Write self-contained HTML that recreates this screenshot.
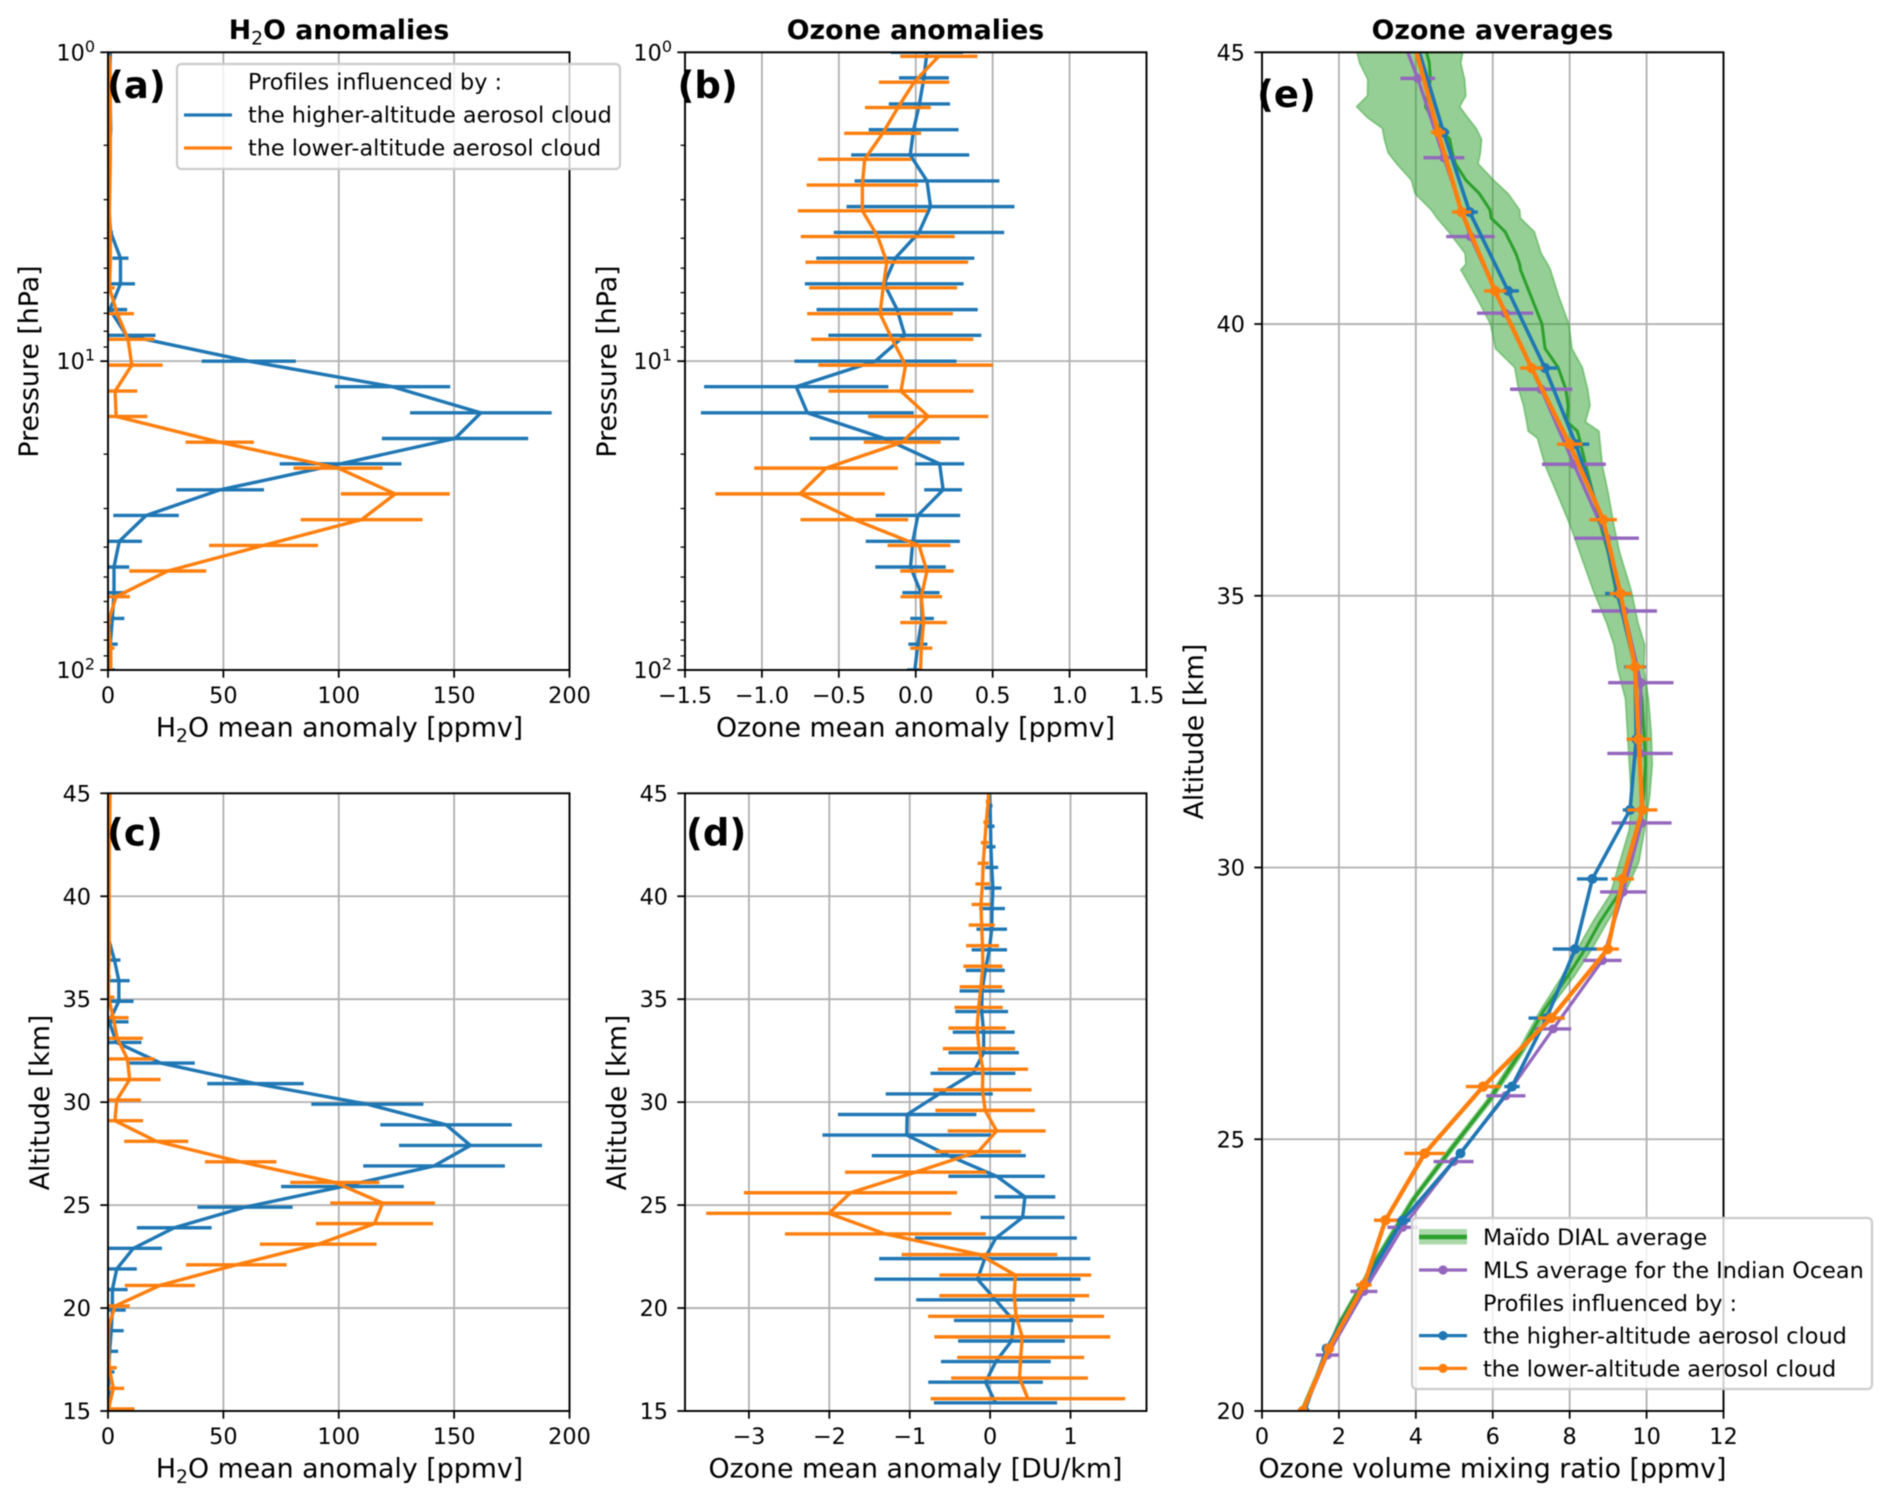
<!DOCTYPE html>
<html lang="en">
<head>
<meta charset="utf-8">
<title>Water vapour and ozone anomaly profiles</title>
<style>
html,body{margin:0;padding:0;background:#fff;}
#figure{display:block;width:1892px;height:1503px;font-family:"DejaVu Sans","Liberation Sans",sans-serif;filter:blur(0.6px);}
.title{font-size:26.8px;font-weight:bold;text-anchor:middle;}
.axis-label{font-size:26.8px;text-anchor:middle;fill:#000;}
.panel-tag{font-size:37px;font-weight:bold;}
.legend-text{font-size:22.35px;fill:#000;}
.legend-box{fill:#fff;fill-opacity:.8;stroke:#ccc;stroke-width:2.2;}
</style>
</head>
<body>
<svg id="figure" xmlns="http://www.w3.org/2000/svg" width="1892" height="1503" viewBox="0 0 1892 1503">
  <rect width="1892" height="1503" fill="#fff"/>
  <g id="panel-a"></g>
  <g id="panel-b"></g>
  <g id="panel-c"></g>
  <g id="panel-d"></g>
  <g id="panel-e"></g>

  <text class="title" x="339" y="39">H<tspan dy="5.5" font-size="18.8" font-weight="normal">2</tspan><tspan dy="-5.5">O anomalies</tspan></text>
  <text class="title" x="915.5" y="39">Ozone anomalies</text>
  <text class="title" x="1492.5" y="39">Ozone averages</text>

  <text class="axis-label" x="339.5" y="736.5">H<tspan dy="5.5" font-size="18.8">2</tspan><tspan dy="-5.5">O mean anomaly [ppmv]</tspan></text>
  <text class="axis-label" x="915.5" y="736.5">Ozone mean anomaly [ppmv]</text>
  <text class="axis-label" x="339.5" y="1477.5">H<tspan dy="5.5" font-size="18.8">2</tspan><tspan dy="-5.5">O mean anomaly [ppmv]</tspan></text>
  <text class="axis-label" x="915.5" y="1477.5">Ozone mean anomaly [DU/km]</text>
  <text class="axis-label" x="1492.5" y="1477.5">Ozone volume mixing ratio [ppmv]</text>

  <text class="axis-label" transform="translate(38,361.5) rotate(-90)">Pressure [hPa]</text>
  <text class="axis-label" transform="translate(616,361.5) rotate(-90)">Pressure [hPa]</text>
  <text class="axis-label" transform="translate(49,1102.5) rotate(-90)">Altitude [km]</text>
  <text class="axis-label" transform="translate(626,1102.5) rotate(-90)">Altitude [km]</text>
  <text class="axis-label" transform="translate(1203,731.6) rotate(-90)">Altitude [km]</text>

  <text class="panel-tag" x="107" y="98">(a)</text>
  <text class="panel-tag" x="677.5" y="98">(b)</text>
  <text class="panel-tag" x="107" y="845.5">(c)</text>
  <text class="panel-tag" x="686" y="845.5">(d)</text>
  <text class="panel-tag" x="1257" y="107">(e)</text>

  <g>
    <rect class="legend-box" x="177" y="64" width="443" height="105" rx="4.4"/>
    <text class="legend-text" x="248" y="89.5">Profiles influenced by :</text>
    <line x1="184" x2="232" y1="115" y2="115" stroke="#1f77b4" stroke-width="3.3"/>
    <text class="legend-text" x="248" y="122.5">the higher-altitude aerosol cloud</text>
    <line x1="184" x2="232" y1="148" y2="148" stroke="#ff7f0e" stroke-width="3.3"/>
    <text class="legend-text" x="248" y="155.5">the lower-altitude aerosol cloud</text>
  </g>

  <g>
    <rect class="legend-box" x="1412" y="1218" width="460" height="171" rx="4.4"/>
    <rect x="1419" y="1229" width="48" height="15.5" fill="#2ca02c" fill-opacity=".4"/>
    <line x1="1419" x2="1467" y1="1237" y2="1237" stroke="#2ca02c" stroke-width="4.4"/>
    <text class="legend-text" x="1483" y="1245">Maïdo DIAL average</text>
    <line x1="1419" x2="1467" y1="1270" y2="1270" stroke="#9467bd" stroke-width="3.3"/>
    <circle cx="1443" cy="1270" r="4.6" fill="#9467bd"/>
    <text class="legend-text" x="1483" y="1278">MLS average for the Indian Ocean</text>
    <text class="legend-text" x="1483" y="1311">Profiles influenced by :</text>
    <line x1="1419" x2="1467" y1="1335.6" y2="1335.6" stroke="#1f77b4" stroke-width="3.3"/>
    <circle cx="1443" cy="1335.6" r="4.6" fill="#1f77b4"/>
    <text class="legend-text" x="1483" y="1343.6">the higher-altitude aerosol cloud</text>
    <line x1="1419" x2="1467" y1="1368.4" y2="1368.4" stroke="#ff7f0e" stroke-width="3.3"/>
    <circle cx="1443" cy="1368.4" r="4.6" fill="#ff7f0e"/>
    <text class="legend-text" x="1483" y="1376.4">the lower-altitude aerosol cloud</text>
  </g>
</svg>

<script>
/* ---------- shared levels ---------- */
const pressureHigher = [1,1.21,1.47,1.78,2.15,2.61,3.16,3.83,4.64,5.62,6.81,8.25,10,12.1,14.7,17.8,21.5,26.1,31.6,38.3,46.4,56.2,68.1,82.5,100];
const pressureLower = [1.03,1.25,1.51,1.83,2.22,2.69,3.26,3.95,4.78,5.79,7.02,8.5,10.3,12.5,15.1,18.3,22.2,26.9,32.6,39.5,47.8,57.9,70.2,85,103];

/* ---------- panel a ---------- */
const aHigherMean = [1,.8,1,1.2,.6,.3,.2,1.2,5.4,5.4,.8,8,61,123.3,161.6,150.4,100.8,48.6,16.5,4.9,2.6,2.6,1.9,1,.2];
const aHigherErr = [.3,.3,.3,.3,.3,.3,.3,1,3.5,6.3,7.5,12.6,20.4,25,30.7,31.7,26.4,19,14.2,9.8,6.6,5.4,5.2,3.2,2.8];
const aLowerMean = [.6,1,1,1,1,.8,.6,1,1,.6,4,8.7,10.3,3.1,3.5,48.4,99.7,124.5,109.9,67.4,25.9,3.5,0,1.2,1.2];
const aLowerErr = [.3,.3,.3,.3,.3,.3,.3,.3,.5,2.3,7.2,11.4,13.4,9.6,13.6,14.8,19.3,23.6,26.4,23.6,16.7,6,1.4,1.6,1];

/* ---------- panel b ---------- */
const bHigherMean = [.073,.053,.024,-.014,-.036,.073,.096,.021,-.133,-.205,-.121,-.071,-.262,-.777,-.705,-.203,.155,.178,.014,-.019,-.034,.034,.041,.014,-.006];
const bHigherErr = [.234,.162,.199,.292,.384,.471,.546,.554,.514,.516,.524,.497,.527,.599,.692,.487,.16,.123,.275,.306,.229,.121,.077,.062,.05];
const bLowerMean = [.15,-.011,-.116,-.215,-.332,-.347,-.347,-.247,-.188,-.212,-.232,-.153,-.066,-.096,.081,-.088,-.583,-.752,-.399,.021,.073,.036,.051,.036,.03];
const bLowerErr = [.251,.229,.214,.25,.304,.362,.42,.5,.529,.481,.474,.527,.568,.472,.391,.25,.467,.551,.35,.204,.174,.135,.152,.072,.06];

/* ---------- panel c ---------- */
const cHigherAlt = [44.9,43.9,42.9,41.9,40.9,39.9,38.9,37.9,36.9,35.9,34.9,33.9,32.9,31.9,30.9,29.9,28.9,27.9,26.9,25.9,24.9,23.9,22.9,21.9,20.9,19.9,18.9,17.9,16.9,15.9,14.9];
const cLowerAlt = [45.1,44.1,43.1,42.1,41.1,40.1,39.1,38.1,37.1,36.1,35.1,34.1,33.1,32.1,31.1,30.1,29.1,28.1,27.1,26.1,25.1,24.1,23.1,22.1,21.1,20.1,19.1,18.1,17.1,16.1,15.1];
const cHigherMean = [.3,.3,.4,.5,.4,.3,.3,.3,2.8,4.7,4.7,.5,3.7,22.8,63.9,112.4,146.5,157.1,141.3,101.6,59.4,28.7,11,3.8,1.9,1.9,1.4,.7,.3,.2,.1];
const cHigherErr = [.2,.2,.2,.2,.2,.2,.2,.2,2.6,4.7,6.4,8.4,10.8,14.8,20.9,24.3,28.5,31,30.7,26.6,20.6,16.2,12.4,8.7,6.6,5.8,5.4,3.7,2.5,1,.5];
const cLowerMean = [.9,.8,.7,.5,.5,.5,.5,.5,.5,.2,.2,2.3,4,8.4,9.4,3.8,3,20.9,57.5,98.3,119,115.5,91.1,55.6,22.5,3.1,.2,.2,.5,2.3,.2];
const cLowerErr = [.2,.2,.2,.2,.2,.2,.2,.2,.2,1,2.5,6.6,11.1,11.8,13.4,10.5,12.2,13.9,15.5,19.3,22.7,25.4,25.3,21.8,15.2,6.3,1,.5,3.3,4.7,11.3];

/* ---------- panel d ---------- */
const dHigherAlt = [45.4,44.4,43.4,42.4,41.4,40.4,39.4,38.4,37.4,36.4,35.4,34.4,33.4,32.4,31.4,30.4,29.4,28.4,27.4,26.4,25.4,24.4,23.4,22.4,21.4,20.4,19.4,18.4,17.4,16.4,15.4];
const dLowerAlt = [45.6,44.6,43.6,42.6,41.6,40.6,39.6,38.6,37.6,36.6,35.6,34.6,33.6,32.6,31.6,30.6,29.6,28.6,27.6,26.6,25.6,24.6,23.6,22.6,21.6,20.6,19.6,18.6,17.6,16.6,15.6];
const dHigherMean = [-.01,0,.005,.01,.02,.035,.024,.02,-.01,-.06,-.1,-.105,-.08,-.08,-.214,-.633,-1.032,-1.037,-.514,.081,.433,.404,.071,-.067,-.157,.067,.29,.266,.071,-.057,.067];
const dHigherErr = [.02,.03,.05,.057,.08,.107,.16,.19,.22,.243,.28,.328,.385,.438,.528,.666,.861,1.049,.958,.6,.378,.523,1.008,1.313,1.282,.987,.74,.664,.683,.713,.766];
const dLowerMean = [-.01,-.024,-.048,-.067,-.086,-.095,-.114,-.105,-.095,-.09,-.114,-.143,-.162,-.138,-.09,-.095,-.062,.081,-.147,-.927,-1.736,-2.007,-1.303,-.133,.314,.3,.323,.4,.38,.366,.47];
const dLowerErr = [.02,.03,.036,.048,.07,.088,.117,.162,.205,.243,.264,.3,.357,.45,.561,.611,.618,.609,.533,.878,1.325,1.525,1.249,.968,.944,.932,1.094,1.094,.79,.851,1.21];

/* ---------- panel e ---------- */
const dialAlt = [45,44.8,44.5,44.2,44,43.8,43.6,43.4,43.15,42.95,42.65,42.4,42.1,41.95,41.7,41.3,41.1,41,40.5,40,39.55,39.2,38.8,38.5,38.2,38.03,37.9,37.4,36.9,36.3,35.8,35.1,34.5,34.1,33.65,33.1,32.5,31.9,31.3,30.7,30.1,29.5,29,28.5,28,27.35,26.6,25.7,24.85,23.9,22.75,21.6,20];
const dialMean = [4.28,4.35,4.38,4.3,4.25,4.42,4.63,4.88,4.95,5.03,5.3,5.65,5.93,5.96,6.32,6.6,6.7,6.72,7,7.28,7.36,7.7,7.9,7.96,7.93,8.2,8.25,8.42,8.6,8.8,9,9.2,9.45,9.62,9.75,9.88,9.93,9.97,9.92,9.8,9.6,9.26,8.79,8.4,7.95,7.31,6.72,5.89,4.95,3.94,2.94,2,1.03];
const dialLow = [2.47,2.54,2.75,2.74,2.46,2.74,3.13,3.18,3.28,3.5,3.88,3.98,4.4,4.55,4.85,5.28,5.3,5.17,5.57,5.94,6.07,6.57,6.67,6.8,6.88,6.92,7.16,7.36,7.66,8.01,8.26,8.61,8.96,9.15,9.25,9.45,9.5,9.55,9.6,9.55,9.3,9.05,8.6,8.2,7.8,7.22,6.64,5.82,4.88,3.88,2.89,1.96,1];
const dialHigh = [5.22,5.17,5.27,5.3,5.14,5.35,5.57,5.71,5.68,5.62,6.02,6.4,6.7,6.72,7.08,7.26,7.43,7.5,7.72,7.98,8.06,8.33,8.47,8.53,8.41,8.76,8.78,8.85,9,9.15,9.3,9.6,9.78,9.95,9.93,10.05,10.12,10.15,10.08,9.95,9.8,9.42,8.98,8.58,8.12,7.42,6.8,5.96,5.02,4,2.99,2.05,1.06];

const mlsAlt = [45.9,44.52,43.06,41.61,40.2,38.8,37.42,36.06,34.72,33.4,32.1,30.82,29.55,28.29,27.03,25.8,24.59,23.38,22.2,21.03,19.87];
const mlsMean = [3.3,4.05,4.73,5.42,6.32,7.26,8.11,8.96,9.42,9.85,9.83,9.87,9.39,8.85,7.57,6.34,4.98,3.66,2.65,1.7,1];
const mlsErr = [.4,.45,.53,.63,.73,.81,.83,.84,.85,.85,.85,.78,.6,.5,.47,.51,.52,.4,.35,.3,.2];

const profileAlt = [45.1,43.53,42.06,40.61,39.19,37.79,36.4,35.04,33.69,32.36,31.06,29.79,28.5,27.23,25.97,24.74,23.51,22.32,21.15,20];
const eHigherMean = [4.05,4.72,5.4,6.4,7.36,8.16,8.83,9.25,9.7,9.73,9.57,8.59,8.14,7.4,6.5,5.16,3.66,2.65,1.68,1.11];
const eHigherErr = [.1,.15,.21,.28,.33,.35,.3,.33,.28,.25,.19,.4,.58,.47,.2,.1,.2,.2,.1,.1];
const eLowerMean = [3.98,4.58,5.19,6.06,7.01,8,8.87,9.32,9.7,9.79,9.89,9.38,8.99,7.52,5.75,4.23,3.21,2.65,1.74,1.06];
const eLowerErr = [.1,.19,.25,.29,.3,.33,.36,.28,.26,.31,.39,.29,.29,.35,.45,.53,.3,.2,.1,.1];

/* ---------- tick values and labels ---------- */
const waterTicks = [0,50,100,150,200];
const waterTickLabels = ['0','50','100','150','200'];
const ozonePpmvTicks = [-1.5,-1,-.5,0,.5,1,1.5];
const ozonePpmvTickLabels = ['\u22121.5','\u22121.0','\u22120.5','0.0','0.5','1.0','1.5'];
const ozoneDuTicks = [-3,-2,-1,0,1];
const ozoneDuTickLabels = ['\u22123','\u22122','\u22121','0','1'];
const mixingTicks = [0,2,4,6,8,10,12];
const mixingTickLabels = ['0','2','4','6','8','10','12'];
const altitudeTicksLow = [15,20,25,30,35,40,45];
const altitudeTicksHigh = [20,25,30,35,40,45];
const pressureDecades = [1,10,100];
const pressureExponents = ['0','1','2'];
const pressureMinor = [2,3,4,5,6,7,8,9,20,30,40,50,60,70,80,90];

/* ---------- colours ---------- */
const BLUE = '#1f77b4', ORANGE = '#ff7f0e', PURPLE = '#9467bd', GREEN = '#2ca02c';
const SVGNS = 'http://www.w3.org/2000/svg';
const SERIES_W = 3.4, GRID_W = 1.8, TOP_ROW = [52.3, 670], LOW_ROW = [793.3, 1411], FULL_ROW = [52.3, 1411];

function linearScale(d0, d1, r0, r1) {
  return v => r0 + (v - d0) / (d1 - d0) * (r1 - r0);
}
function logScale(d0, d1, r0, r1) {
  return v => r0 + (Math.log10(v) - Math.log10(d0)) / (Math.log10(d1) - Math.log10(d0)) * (r1 - r0);
}
function shape(parent, tag, name, props) {
  const el = document.createElementNS(SVGNS, tag);
  
  
  for (const k in props) el.setAttribute(k, props[k]);
  parent.appendChild(el);
  return el;
}
function label(parent, name, content, x, y, anchor) {
  const el = shape(parent, 'text', name, {x: x, y: y, 'text-anchor': anchor, 'font-size': 22.35, fill: '#000'});
  el.textContent = content;
  return el;
}
function powerLabel(parent, name, exponent, x, y) {
  const el = shape(parent, 'text', name, {x: x, y: y, 'text-anchor': 'end', 'font-size': 22.35, fill: '#000'});
  el.textContent = '10';
  const sup = document.createElementNS(SVGNS, 'tspan');
  sup.setAttribute('dy', '-8.5');
  sup.setAttribute('font-size', '16');
  sup.textContent = exponent;
  el.appendChild(sup);
  return el;
}
function frame(id, left, row, xs, xTicks, xLabels, ys, yTicks, yLabels, isLog) {
  const g = document.getElementById(id);
  const right = left + 461.5, top = row[0], bottom = row[1];
  xTicks.forEach((t, i) => {
    shape(g, 'line', id + '-x-grid-' + i, {x1: xs(t), x2: xs(t), y1: top, y2: bottom, stroke: '#b0b0b0', 'stroke-width': GRID_W});
  });
  yTicks.forEach((t, i) => {
    shape(g, 'line', id + '-y-grid-' + i, {x1: left, x2: right, y1: ys(t), y2: ys(t), stroke: '#b0b0b0', 'stroke-width': GRID_W});
  });
  const clip = shape(g, 'clipPath', id + '-clip', {id: id + '-clip'});
  shape(clip, 'rect', id + '-clip-rect', {x: left, y: top, width: 461.5, height: bottom - top});
  const plot = shape(g, 'g', id + '-plot-area', {'clip-path': 'url(#' + id + '-clip)'});
  shape(g, 'rect', id + '-spines', {x: left, y: top, width: 461.5, height: bottom - top, fill: 'none', stroke: '#000', 'stroke-width': 1.9});
  xTicks.forEach((t, i) => {
    shape(g, 'line', id + '-x-tick-' + i, {x1: xs(t), x2: xs(t), y1: bottom, y2: bottom + 7.7, stroke: '#000', 'stroke-width': 1.8});
    label(g, id + '-x-tick-label-' + i, xLabels[i], xs(t), bottom + 33, 'middle');
  });
  yTicks.forEach((t, i) => {
    shape(g, 'line', id + '-y-tick-' + i, {x1: left - 7.7, x2: left, y1: ys(t), y2: ys(t), stroke: '#000', 'stroke-width': 1.8});
    if (isLog) powerLabel(g, id + '-y-tick-label-' + i, yLabels[i], left - 13, ys(t) + 8);
    else label(g, id + '-y-tick-label-' + i, yLabels[i], left - 17, ys(t) + 8, 'end');
  });
  if (isLog) {
    pressureMinor.forEach((t, i) => {
      shape(g, 'line', id + '-y-minor-tick-' + i, {x1: left - 4.4, x2: left, y1: ys(t), y2: ys(t), stroke: '#000', 'stroke-width': 1.3});
    });
  }
  return plot;
}
function profile(plot, name, color, values, errs, levels, xs, ys, lineWidth, markerRadius) {
  if (errs) {
    values.forEach((v, i) => {
      shape(plot, 'line', name + '-error-bar-' + i, {x1: xs(v - errs[i]), x2: xs(v + errs[i]), y1: ys(levels[i]), y2: ys(levels[i]), stroke: color, 'stroke-width': SERIES_W});
    });
  }
  const pts = values.map((v, i) => xs(v).toFixed(2) + ',' + ys(levels[i]).toFixed(2)).join(' ');
  shape(plot, 'polyline', name + '-line', {points: pts, fill: 'none', stroke: color, 'stroke-width': lineWidth, 'stroke-linejoin': 'round'});
  if (markerRadius) {
    values.forEach((v, i) => {
      shape(plot, 'circle', name + '-point-' + i, {cx: xs(v), cy: ys(levels[i]), r: markerRadius, fill: color});
    });
  }
}

/* panel a */
(function () {
  const xs = linearScale(0, 200, 108, 569.5), ys = logScale(1, 100, 52.3, 670);
  const plot = frame('panel-a', 108, TOP_ROW, xs, waterTicks, waterTickLabels, ys, pressureDecades, pressureExponents, true);
  profile(plot, 'higher-altitude-a', BLUE, aHigherMean, aHigherErr, pressureHigher, xs, ys, SERIES_W, 0);
  profile(plot, 'lower-altitude-a', ORANGE, aLowerMean, aLowerErr, pressureLower, xs, ys, SERIES_W, 0);
})();
/* panel b */
(function () {
  const xs = linearScale(-1.5, 1.5, 685, 1146.5), ys = logScale(1, 100, 52.3, 670);
  const plot = frame('panel-b', 685, TOP_ROW, xs, ozonePpmvTicks, ozonePpmvTickLabels, ys, pressureDecades, pressureExponents, true);
  profile(plot, 'higher-altitude-b', BLUE, bHigherMean, bHigherErr, pressureHigher, xs, ys, SERIES_W, 0);
  profile(plot, 'lower-altitude-b', ORANGE, bLowerMean, bLowerErr, pressureLower, xs, ys, SERIES_W, 0);
})();
/* panel c */
(function () {
  const xs = linearScale(0, 200, 108, 569.5), ys = linearScale(45, 15, 793.3, 1411);
  const plot = frame('panel-c', 108, LOW_ROW, xs, waterTicks, waterTickLabels, ys, altitudeTicksLow, altitudeTicksLow.map(String), false);
  profile(plot, 'higher-altitude-c', BLUE, cHigherMean, cHigherErr, cHigherAlt, xs, ys, SERIES_W, 0);
  profile(plot, 'lower-altitude-c', ORANGE, cLowerMean, cLowerErr, cLowerAlt, xs, ys, SERIES_W, 0);
})();
/* panel d */
(function () {
  const xs = linearScale(-3.795, 1.945, 685, 1146.5), ys = linearScale(45, 15, 793.3, 1411);
  const plot = frame('panel-d', 685, LOW_ROW, xs, ozoneDuTicks, ozoneDuTickLabels, ys, altitudeTicksLow, altitudeTicksLow.map(String), false);
  profile(plot, 'higher-altitude-d', BLUE, dHigherMean, dHigherErr, dHigherAlt, xs, ys, SERIES_W, 0);
  profile(plot, 'lower-altitude-d', ORANGE, dLowerMean, dLowerErr, dLowerAlt, xs, ys, SERIES_W, 0);
})();
/* panel e */
(function () {
  const xs = linearScale(0, 12, 1262, 1723.5), ys = linearScale(45, 20, 52.3, 1411);
  const plot = frame('panel-e', 1262, FULL_ROW, xs, mixingTicks, mixingTickLabels, ys, altitudeTicksHigh, altitudeTicksHigh.map(String), false);
  const upper = dialHigh.map((v, i) => xs(v).toFixed(2) + ',' + ys(dialAlt[i]).toFixed(2));
  const lower = dialLow.map((v, i) => xs(v).toFixed(2) + ',' + ys(dialAlt[i]).toFixed(2)).reverse();
  shape(plot, 'polygon', 'dial-uncertainty-band', {points: upper.concat(lower).join(' '), fill: GREEN, 'fill-opacity': .5, stroke: GREEN, 'stroke-opacity': .45, 'stroke-width': 1.8});
  profile(plot, 'dial-average', GREEN, dialMean, null, dialAlt, xs, ys, 3, 0);
  profile(plot, 'mls-average', PURPLE, mlsMean, mlsErr, mlsAlt, xs, ys, 3.3, 4.6);
  profile(plot, 'higher-altitude-e', BLUE, eHigherMean, eHigherErr, profileAlt, xs, ys, 3.6, 5);
  profile(plot, 'lower-altitude-e', ORANGE, eLowerMean, eLowerErr, profileAlt, xs, ys, 4.4, 5.2);
})();
</script>
</body>
</html>
